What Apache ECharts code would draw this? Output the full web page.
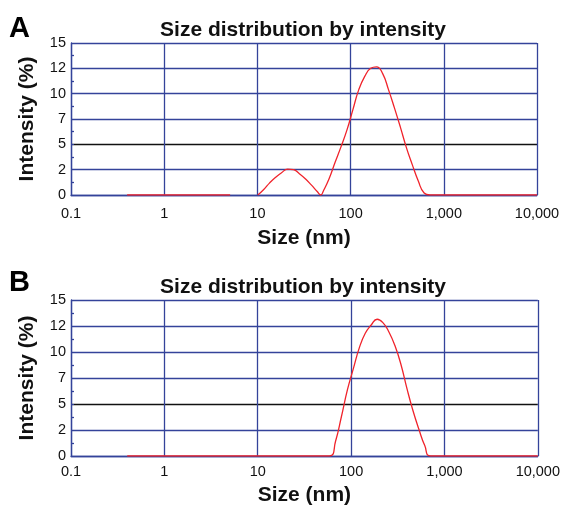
<!DOCTYPE html>
<html>
<head>
<meta charset="utf-8">
<script src="https://cdn.jsdelivr.net/npm/echarts@6/dist/echarts.min.js"></script>
<style>
html,body{margin:0;padding:0;background:#fff;}
#chart{width:563px;height:510px;}
</style>
</head>
<body>
<div id="chart"></div>
<script>
// ---- data ----
const titleText = 'Size distribution by intensity';
const xName = 'Size (nm)';
const yName = 'Intensity (%)';
const panelLabels = ['A', 'B'];
const xTickValues = [0.1, 1, 10, 100, 1000, 10000];
const xTickLabels = ['0.1', '1', '10', '100', '1,000', '10,000'];
const yTickValues = [0, 2.5, 5, 7.5, 10, 12.5, 15];
const yTickLabels = ['0', '2', '5', '7', '10', '12', '15'];

// Panel A: sizes (nm) and intensities (%); null = gap in the trace
const sizesA  = [0.4, 5.1, 7, 10.1, 11.7, 13.54, 15.69, 18.17, 21.04, 24.36, 28.21, 32.67, 37.84, 43.82, 48, 50.75, 58.77, 68.06, 78.82, 91.28, 105.7, 122.4, 141.8, 164.2, 190.1, 220.2, 255.0, 295.3, 342.0, 396.1, 458.7, 531.2, 615.1, 712.4, 10000];
const valuesA = [0, 0, null, 0, 0.55, 1.2, 1.75, 2.2, 2.55, 2.5, 2.1, 1.6, 1.0, 0.35, 0, 0.35, 1.6, 3.2, 4.75, 6.4, 8.4, 10.4, 11.7, 12.5, 12.65, 12.0, 10.4, 8.6, 6.7, 4.7, 3.0, 1.4, 0.2, 0, 0];

// Panel B
const sizesB  = [0.4, 58.77, 68.06, 78.82, 91.28, 105.7, 122.4, 141.8, 164.2, 190.1, 220.2, 255.0, 295.3, 342.0, 396.1, 458.7, 531.2, 615.1, 712.4, 10000];
const valuesB = [0, 0, 1.4, 3.8, 6.35, 8.4, 10.4, 11.8, 12.6, 13.15, 12.8, 11.9, 10.6, 8.8, 6.5, 4.4, 2.6, 1.0, 0, 0];

// ---- chart ----
const blue = '#34439a';
const font = 'Liberation Sans, Arial, Helvetica, sans-serif';

function pairs(xs, ys) {
  return xs.map((x, i) => [x, ys[i] === null ? '-' : ys[i]]);
}
function xLabel(v) {
  const i = xTickValues.findIndex(t => Math.abs(Math.log10(t) - Math.log10(v)) < 1e-6);
  return i >= 0 ? xTickLabels[i] : '';
}
function yLabel(v) {
  const i = yTickValues.findIndex(t => Math.abs(t - v) < 1e-6);
  return i >= 0 ? yTickLabels[i] : '';
}

const grids = [
  {left: 71, top: 43, width: 466, height: 152},
  {left: 71, top: 300, width: 468, height: 156}
];
const xMargins = [11, 8];
const xNameGaps = [33, 29];

const chart = echarts.init(document.getElementById('chart'));
const option = {
  animation: false,
  backgroundColor: '#fff',
  title: [0, 1].map(i => ({
    text: titleText,
    left: 298,
    textAlign: 'center',
    top: i === 0 ? 15 : 272,
    textStyle: {fontFamily: font, fontWeight: 'bold', fontSize: 21, color: '#111'}
  })),
  graphic: [0, 1].map(i => ({
    type: 'text',
    left: 9,
    top: i === 0 ? 14 : 268,
    style: {text: panelLabels[i], font: 'bold 29px ' + font, fill: '#000'}
  })),
  grid: grids,
  xAxis: [0, 1].map(i => ({
    type: 'log',
    logBase: 10,
    gridIndex: i,
    min: 0.1,
    max: 10000,
    name: xName,
    nameLocation: 'middle',
    nameGap: xNameGaps[i],
    nameTextStyle: {fontFamily: font, fontWeight: 'bold', fontSize: 21, color: '#111'},
    axisLine: {show: true, lineStyle: {color: blue, width: 1.3}},
    axisTick: {show: false},
    axisLabel: {formatter: xLabel, margin: xMargins[i], fontFamily: font, fontSize: 14.5, color: '#111'},
    splitLine: {show: true, lineStyle: {color: blue, width: 1.3}},
    minorTick: {show: false},
    minorSplitLine: {show: false}
  })),
  yAxis: [0, 1].map(i => ({
    type: 'value',
    gridIndex: i,
    min: 0,
    max: 15,
    interval: 2.5,
    name: yName,
    nameLocation: 'middle',
    nameGap: 33,
    nameTextStyle: {fontFamily: font, fontWeight: 'bold', fontSize: 21, color: '#111'},
    axisLine: {show: true, lineStyle: {color: blue, width: 1.3}},
    axisTick: {show: true, inside: true, length: 3, lineStyle: {color: blue}},
    minorTick: {show: true, splitNumber: 2, length: 3, lineStyle: {color: blue, width: 1.3}},
    axisLabel: {formatter: yLabel, margin: 5, fontFamily: font, fontSize: 14.5, color: '#111'},
    splitLine: {show: true, lineStyle: {color: [blue, blue, '#111', blue, blue, blue, blue], width: 1.3}}
  })),
  series: [
    {
      type: 'line', xAxisIndex: 0, yAxisIndex: 0,
      data: pairs(sizesA, valuesA),
      smooth: 0.5, showSymbol: false, symbol: 'none', connectNulls: false,
      lineStyle: {color: '#f0232b', width: 1.3}, z: 5
    },
    {
      type: 'line', xAxisIndex: 1, yAxisIndex: 1,
      data: pairs(sizesB, valuesB),
      smooth: 0.5, showSymbol: false, symbol: 'none',
      lineStyle: {color: '#f0232b', width: 1.3}, z: 5
    }
  ]
};
chart.setOption(option);
</script>
</body>
</html>
